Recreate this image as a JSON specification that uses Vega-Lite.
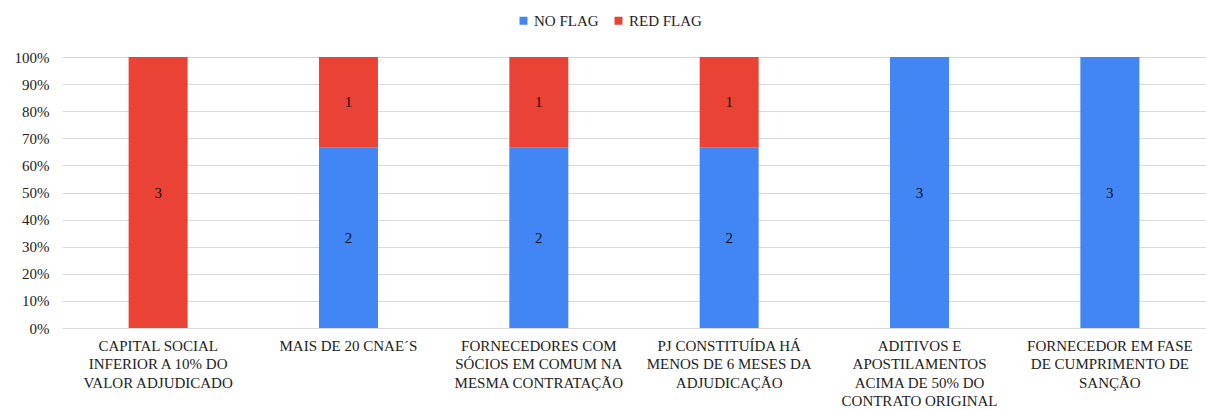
{
  "$schema": "https://vega.github.io/schema/vega-lite/v6.json",
  "width": 1144,
  "height": 271,
  "autosize": {"type": "none"},
  "padding": {"left": 62, "top": 57, "right": 0, "bottom": 82},
  "background": "white",
  "config": {
    "font": "'Times New Roman', 'Liberation Serif', 'DejaVu Serif', serif",
    "view": {"stroke": null},
    "axisY": {
      "labelFont": "'Times New Roman', 'Liberation Serif', 'DejaVu Serif', serif",
      "labelFontSize": 15,
      "labelColor": "#222222",
      "labelPadding": 13,
      "labelOverlap": false,
      "ticks": false,
      "domain": false,
      "grid": true,
      "gridColor": "#D9D9D9",
      "gridWidth": 1
    },
    "axisX": {
      "labelFont": "'Times New Roman', 'Liberation Serif', 'DejaVu Serif', serif",
      "labelFontSize": 15,
      "labelColor": "#222222",
      "labelOverlap": false,
      "ticks": false,
      "domain": false,
      "grid": false
    },
    "legend": {
      "labelFont": "'Times New Roman', 'Liberation Serif', 'DejaVu Serif', serif"
    },
    "text": {"font": "'Times New Roman', 'Liberation Serif', 'DejaVu Serif', serif"}
  },
  "data": {
    "values": [
      {"category": "CAPITAL SOCIAL|INFERIOR A 10% DO|VALOR ADJUDICADO", "flag": "NO FLAG", "count": 0},
      {"category": "CAPITAL SOCIAL|INFERIOR A 10% DO|VALOR ADJUDICADO", "flag": "RED FLAG", "count": 3},
      {"category": "MAIS DE 20 CNAE´S", "flag": "NO FLAG", "count": 2},
      {"category": "MAIS DE 20 CNAE´S", "flag": "RED FLAG", "count": 1},
      {"category": "FORNECEDORES COM|SÓCIOS EM COMUM NA|MESMA CONTRATAÇÃO", "flag": "NO FLAG", "count": 2},
      {"category": "FORNECEDORES COM|SÓCIOS EM COMUM NA|MESMA CONTRATAÇÃO", "flag": "RED FLAG", "count": 1},
      {"category": "PJ CONSTITUÍDA HÁ|MENOS DE 6 MESES DA|ADJUDICAÇÃO", "flag": "NO FLAG", "count": 2},
      {"category": "PJ CONSTITUÍDA HÁ|MENOS DE 6 MESES DA|ADJUDICAÇÃO", "flag": "RED FLAG", "count": 1},
      {"category": "ADITIVOS E|APOSTILAMENTOS|ACIMA DE 50% DO|CONTRATO ORIGINAL", "flag": "NO FLAG", "count": 3},
      {"category": "ADITIVOS E|APOSTILAMENTOS|ACIMA DE 50% DO|CONTRATO ORIGINAL", "flag": "RED FLAG", "count": 0},
      {"category": "FORNECEDOR EM FASE|DE CUMPRIMENTO DE|SANÇÃO", "flag": "NO FLAG", "count": 3},
      {"category": "FORNECEDOR EM FASE|DE CUMPRIMENTO DE|SANÇÃO", "flag": "RED FLAG", "count": 0}
    ]
  },
  "transform": [
    {"stack": "count", "groupby": ["category"], "sort": [{"field": "flag", "order": "ascending"}], "offset": "normalize", "as": ["y0", "y1"]},
    {"calculate": "(datum.y0 + datum.y1) / 2", "as": "ymid"}
  ],
  "encoding": {
    "x": {
      "field": "category",
      "type": "nominal",
      "sort": null,
      "scale": {"paddingInner": 0.69, "paddingOuter": 0.35},
      "axis": {
        "title": null,
        "labelAngle": 0,
        "labelExpr": "split(datum.label, '|')",
        "labelLineHeight": 18.5,
        "labelBaseline": "top",
        "labelPadding": 10,
        "labelLimit": 0
      }
    }
  },
  "layer": [
    {
      "mark": {"type": "bar", "stroke": null},
      "encoding": {
        "y": {
          "field": "y0",
          "type": "quantitative",
          "scale": {"domain": [0, 1], "nice": false},
          "axis": {
            "title": null,
            "format": ".0%",
            "values": [0, 0.1, 0.2, 0.3, 0.4, 0.5, 0.6, 0.7, 0.8, 0.9, 1]
          }
        },
        "y2": {"field": "y1"},
        "color": {
          "field": "flag",
          "type": "nominal",
          "scale": {"domain": ["NO FLAG", "RED FLAG"], "range": ["#4285F4", "#EA4335"]},
          "legend": {
            "title": null,
            "orient": "none",
            "direction": "horizontal",
            "legendX": 454,
            "legendY": -44,
            "symbolType": "square",
            "symbolSize": 64,
            "symbolStrokeWidth": 0,
            "labelFontSize": 15,
            "labelColor": "#222222",
            "labelOffset": 3,
            "columnPadding": 12
          }
        }
      }
    },
    {
      "transform": [{"filter": "datum.count > 0"}],
      "mark": {"type": "text", "fontSize": 15, "color": "#111111", "baseline": "middle"},
      "encoding": {
        "y": {"field": "ymid", "type": "quantitative", "axis": {"title": null, "format": ".0%", "values": [0, 0.1, 0.2, 0.3, 0.4, 0.5, 0.6, 0.7, 0.8, 0.9, 1]}},
        "text": {"field": "count", "type": "quantitative"}
      }
    }
  ]
}
